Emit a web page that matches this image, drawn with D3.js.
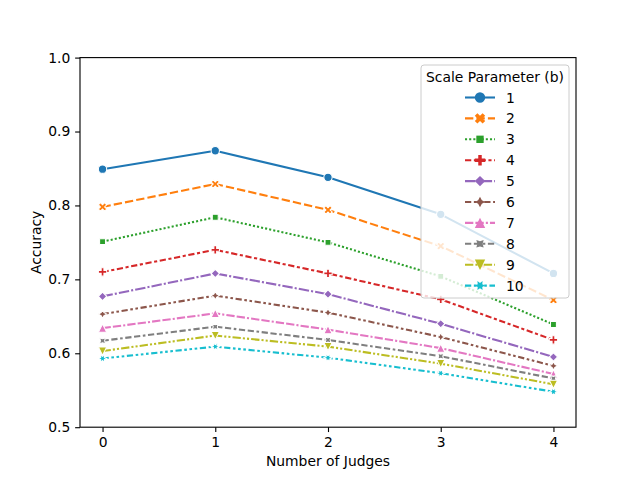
<!DOCTYPE html>
<html>
<head>
<meta charset="utf-8">
<script src="https://cdn.jsdelivr.net/npm/d3@7"></script>
<style>
body { margin: 0; background: #fff; }
text { font-family: "DejaVu Sans", sans-serif; }
</style>
</head>
<body>
<div id="chart"></div>
<script>
// data
var judges = [0, 1, 2, 3, 4];
var scaleNames = ["1", "2", "3", "4", "5", "6", "7", "8", "9", "10"];
var yTicks = [0.5, 0.6, 0.7, 0.8, 0.9, 1.0];

var acc1 = [0.849, 0.874, 0.838, 0.788, 0.708];
var acc2 = [0.798, 0.829, 0.794, 0.745, 0.672];
var acc3 = [0.751, 0.784, 0.750, 0.704, 0.639];
var acc4 = [0.710, 0.740, 0.708, 0.673, 0.618];
var acc5 = [0.677, 0.708, 0.680, 0.640, 0.595];
var acc6 = [0.653, 0.678, 0.655, 0.622, 0.583];
var acc7 = [0.634, 0.654, 0.632, 0.607, 0.572];
var acc8 = [0.617, 0.636, 0.618, 0.596, 0.566];
var acc9 = [0.603, 0.624, 0.609, 0.586, 0.558];
var acc10 = [0.593, 0.609, 0.594, 0.573, 0.548];
var allSeries = [acc1, acc2, acc3, acc4, acc5, acc6, acc7, acc8, acc9, acc10];

// seaborn style cycles
var colors = d3.schemeCategory10;
var dashUnits = [
  null,
  [4, 1.5],
  [1, 1],
  [3, 1.25, 1.5, 1.25],
  [5, 1, 1, 1],
  [3, 1.25, 1.25, 1.25, 1.25, 1.25],
  [4, 1, 4, 1, 1, 1],
  [3, 1.25, 3, 1.25, 1.25, 1.25],
  [4, 1, 1, 1, 1, 1],
  [3, 1.25, 1.25, 1.25, 1.25, 1.25, 1.25, 1.25]
];
var markerKinds = ["circle", "xfill", "square", "plusfill", "diamond", "star4", "tri", "star4r", "trid", "star6"];

var pt = 100 / 72;
var lw = 1.5 * pt;
var msize = 6 * pt;
var legendMsize = 7.5 * pt;

var margin = {top: 57.6, right: 64, bottom: 52.8, left: 80},
    width = 640 - margin.left - margin.right,
    height = 480 - margin.top - margin.bottom;

var svg = d3.select("#chart")
  .append("svg")
  .attr("width", 640)
  .attr("height", 480)
  .append("g")
  .attr("transform", "translate(" + margin.left + "," + margin.top + ")");

var x = d3.scaleLinear().domain([-0.2, 4.2]).range([0, width]);
var y = d3.scaleLinear().domain([0.5, 1.0]).range([height, 0]);

// marker shapes (matplotlib style, y up -> flipped)
function ptsPath(pts) {
  return "M" + pts.map(function(p) { return p[0].toFixed(2) + "," + (-p[1]).toFixed(2); }).join("L") + "Z";
}
function polyPts(n, r, rot, star) {
  var pts = [], k = star ? 2 * n : n;
  for (var i = 0; i < k; i++) {
    var a = Math.PI / 2 + (2 * Math.PI * i) / k + rot * Math.PI / 180;
    var rr = star && i % 2 ? r * 0.5 : r;
    pts.push([rr * Math.cos(a), rr * Math.sin(a)]);
  }
  return pts;
}
function markerPath(kind, s) {
  var r = s / 2;
  if (kind == "circle") {
    return "M" + r + ",0A" + r + "," + r + " 0 1,1 " + (-r) + ",0A" + r + "," + r + " 0 1,1 " + r + ",0Z";
  }
  if (kind == "xfill") {
    var xp = [[-1, -2], [0, -1], [1, -2], [2, -1], [1, 0], [2, 1], [1, 2], [0, 1], [-1, 2], [-2, 1], [-1, 0], [-2, -1]];
    return ptsPath(xp.map(function(p) { return [p[0] / 4 * s, p[1] / 4 * s]; }));
  }
  if (kind == "plusfill") {
    var pp = [[-1, -3], [-1, -1], [-3, -1], [-3, 1], [-1, 1], [-1, 3], [1, 3], [1, 1], [3, 1], [3, -1], [1, -1], [1, -3]];
    return ptsPath(pp.map(function(p) { return [p[0] / 6 * s, p[1] / 6 * s]; }));
  }
  if (kind == "square") return ptsPath(polyPts(4, r, 45, false));
  if (kind == "diamond") return ptsPath(polyPts(4, r, 0, false));
  if (kind == "star4") return ptsPath(polyPts(4, r, 0, true));
  if (kind == "star4r") return ptsPath(polyPts(4, r, 45, true));
  if (kind == "star6") return ptsPath(polyPts(6, r, 30, true));
  if (kind == "tri") return ptsPath([[0, r], [-r, -r], [r, -r]]);
  if (kind == "trid") return ptsPath([[0, -r], [-r, r], [r, r]]);
}

function dashString(i) {
  if (!dashUnits[i]) return null;
  return dashUnits[i].map(function(d) { return (d * lw).toFixed(2); }).join(",");
}

// axes
var xAxis = svg.append("g")
  .attr("transform", "translate(0," + height + ")")
  .call(d3.axisBottom(x).tickValues(judges).tickFormat(d3.format("d")).tickSize(3.5 * pt).tickPadding(3.5 * pt));
var yAxis = svg.append("g")
  .call(d3.axisLeft(y).tickValues(yTicks).tickFormat(d3.format(".1f")).tickSize(3.5 * pt).tickPadding(3.5 * pt));

[xAxis, yAxis].forEach(function(ax) {
  ax.select(".domain").remove();
  ax.selectAll("line").attr("stroke", "#000").attr("stroke-width", 0.8 * pt);
  ax.selectAll("text").attr("font-size", 10 * pt).attr("fill", "#000").style("font-family", "DejaVu Sans");
});

// lines and markers
var line = d3.line()
  .x(function(d, i) { return x(judges[i]); })
  .y(function(d) { return y(d); });

allSeries.forEach(function(vals, i) {
  var g = svg.append("g");
  g.append("path")
    .datum(vals)
    .attr("d", line)
    .attr("fill", "none")
    .attr("stroke", colors[i])
    .attr("stroke-width", lw)
    .attr("stroke-linejoin", "round")
    .attr("stroke-dasharray", dashString(i));
  g.selectAll("path.mk")
    .data(vals)
    .enter()
    .append("path")
    .attr("class", "mk")
    .attr("d", markerPath(markerKinds[i], msize))
    .attr("transform", function(d, j) { return "translate(" + x(judges[j]) + "," + y(d) + ")"; })
    .attr("fill", colors[i])
    .attr("stroke", "#fff")
    .attr("stroke-width", 0.75 * pt);
});

// spines
svg.append("rect")
  .attr("width", width)
  .attr("height", height)
  .attr("fill", "none")
  .attr("stroke", "#000")
  .attr("stroke-width", 0.8 * pt);

// axis labels
svg.append("text")
  .attr("x", width / 2)
  .attr("y", height + 39)
  .attr("text-anchor", "middle")
  .attr("font-size", 10 * pt)
  .text("Number of Judges");
svg.append("text")
  .attr("transform", "translate(-39," + (height / 2) + ")rotate(-90)")
  .attr("text-anchor", "middle")
  .attr("font-size", 10 * pt)
  .text("Accuracy");

// legend
var lg = svg.append("g").attr("transform", "translate(" + (421 - margin.left) + "," + (65 - margin.top) + ")");
lg.append("rect")
  .attr("width", 148)
  .attr("height", 233)
  .attr("rx", 3)
  .attr("fill", "#fff")
  .attr("fill-opacity", 0.8)
  .attr("stroke", "#cccccc")
  .attr("stroke-width", 1);
lg.append("text")
  .attr("x", 74)
  .attr("y", 16.5)
  .attr("text-anchor", "middle")
  .attr("font-size", 10 * pt)
  .text("Scale Parameter (b)");

var items = lg.selectAll("g.item")
  .data(scaleNames)
  .enter()
  .append("g")
  .attr("class", "item")
  .attr("transform", function(d, i) { return "translate(0," + (32.5 + i * 20.9) + ")"; });
items.append("line")
  .attr("x1", 44).attr("x2", 74)
  .attr("stroke", function(d, i) { return colors[i]; })
  .attr("stroke-width", lw)
  .attr("stroke-dasharray", function(d, i) { return dashString(i); });
items.append("path")
  .attr("d", function(d, i) { return markerPath(markerKinds[i], legendMsize); })
  .attr("transform", "translate(59,0)")
  .attr("fill", function(d, i) { return colors[i]; });
items.append("text")
  .attr("x", 85)
  .attr("dy", "0.36em")
  .attr("font-size", 10 * pt)
  .text(function(d) { return d; });
</script>
</body>
</html>
